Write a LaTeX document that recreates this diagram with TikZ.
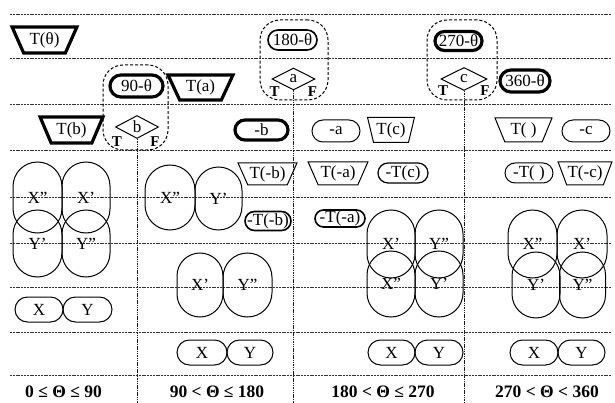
\documentclass[tikz,border=0pt]{standalone}
\usepackage{fontspec}
\setmainfont{Liberation Serif}
\usetikzlibrary{shapes.geometric}
\begin{document}
\begin{tikzpicture}[x=1pt,y=-1pt,
  every node/.style={font=\fontsize{17}{19}\selectfont, inner sep=0pt},
  thinl/.style={line width=1pt},
  medl/.style={line width=1.6pt},
  thickl/.style={line width=3.2pt},
  trap/.style n args={3}{trapezium, shape border rotate=180, trapezium stretches=true,
     trapezium left angle=#3, trapezium right angle=#3, draw,
     minimum width=#1, minimum height=#2},
  pill/.style 2 args={draw, rectangle, minimum width=#1, minimum height=#2,
     rounded corners={min(#1,#2)/2}},
  dia/.style 2 args={diamond, draw, thinl, minimum width=#1, minimum height=#2},
  tf/.style={font=\fontsize{15}{17}\selectfont\bfseries},
  grp/.style={draw, dashed, dash pattern=on 3pt off 2pt, line width=1pt,
     minimum width=#1, rounded corners=20},
  hline/.style={black!80, line width=0.9pt, dash pattern=on 2pt off 0.8pt},
  vline/.style={black!90, line width=1pt, dash pattern=on 1.5pt off 0.8pt},
  rng/.style={font=\fontsize{17.5}{19}\selectfont\bfseries}
]
\useasboundingbox (0,0) rectangle (615,403);

% grid lines
\foreach \yy in {14,58,104,150,197,243,287,332,375}
  \draw[hline] (10,\yy) -- (612,\yy);

% dashed groups
\node[grp=65, minimum height=85] (g1) at (135.5,107.5) {};
\node[grp=68, minimum height=80] (g2) at (294,60) {};
\node[grp=70, minimum height=80] (g3) at (462,60) {};

% row 1
\node[trap={65}{26}{62}, thickl] (tth) at (44.5,40) {T(θ)};
\node[pill={49}{20}, medl] (p180) at (292.5,40) {180-θ};
\node[pill={47}{19}, thickl] (p270) at (458.5,41) {270-θ};

% row 2
\node[pill={53}{22}, thickl] (p90) at (136.5,86) {90-θ};
\node[trap={65}{25}{62}, thickl] (ta) at (200.5,87.5) {T(a)};
\node[dia={43}{22}] (da) at (293.5,79) {a};
\node[dia={46}{23}] (dc) at (464,79) {c};
\node[pill={50}{22}, thickl] (p360) at (525,81) {360-θ};
\node[tf] (aT) at ([xshift=-19pt,yshift=-13pt]da.center) {T};
\node[tf] (aF) at ([xshift=19pt,yshift=-13pt]da.center) {F};
\node[tf] (cT) at ([xshift=-21pt,yshift=-12pt]dc.center) {T};
\node[tf] (cF) at ([xshift=21pt,yshift=-12pt]dc.center) {F};

% row 3
\node[trap={63}{26}{62}, thickl] (tb) at (71.5,130) {T(b)};
\node[dia={43}{23}] (db) at (137,127) {b};
\node[tf] (bT) at ([xshift=-20pt,yshift=-15pt]db.center) {T};
\node[tf] (bF) at ([xshift=18pt,yshift=-15pt]db.center) {F};
\node[pill={53}{20}, thickl] (mb) at (261.5,130) {-b};
\node[pill={48}{22}, thinl] (ma) at (336,131) {-a};
\node[trap={47}{25}{72}, thinl] (tc) at (391,130) {T(c)};
\node[trap={57}{24}{66}, thinl] (tem) at (523.5,130) {T( )};
\node[pill={48}{22}, thinl] (mc) at (586,131) {-c};

% connectors from the decisions
\coordinate (ae) at (da.south |- 0,403);
\coordinate (be) at (db.south |- 0,403);
\coordinate (ce) at (dc.south |- 0,403);
\draw[vline] (db.south) -- (be);
\draw[vline] (da.south) -- (ae);
\draw[vline] (dc.south) -- (ce);

% column 1 ovals
\node[pill={49}{71}, thinl] (c1x2) at (37.5,197.5) {X''};
\node[pill={48}{71}, thinl] (c1x1) at (86,197.5) {X'};
\node[pill={49}{67}, thinl] (c1y1) at (37.5,243.5) {Y'};
\node[pill={48}{67}, thinl] (c1y2) at (86,243.5) {Y''};
\node[pill={48}{25}, thinl] (c1X) at (39,309.5) {X};
\node[pill={49}{25}, thinl] (c1Y) at (87.5,309.5) {Y};

% column 2
\node[pill={50}{65}, thinl] (c2x2) at (170,197.5) {X''};
\node[pill={47}{63}, thinl] (c2y1) at (218.5,198.5) {Y'};
\node[trap={59}{22}{60}, thinl] (tmb) at (267.5,174) {T(-b)};
\node[pill={46}{19}, medl] (mtmb) at (268,221) {-T(-b)};
\node[pill={46}{64}, thinl] (c2x1) at (200,285) {X'};
\node[pill={49}{64}, thinl] (c2y2) at (247.5,285) {Y''};
\node[pill={50}{25}, thinl] (c2X) at (202,352.5) {X};
\node[pill={46}{25}, thinl] (c2Y) at (250,352.5) {Y};

% column 3
\node[trap={60}{23}{60}, thinl] (tma) at (338,173.5) {T(-a)};
\node[pill={50}{20}, line width=1.2pt] (mtc) at (403,173) {-T(c)};
\node[pill={50}{17}, medl] (mtma) at (340,218.5) {-T(-a)};
\node[pill={48}{68}, thinl] (c3x1) at (391,244) {X'};
\node[pill={48}{68}, thinl] (c3y2) at (439,244) {Y''};
\node[pill={48}{66}, thinl] (c3x2) at (391,284) {X''};
\node[pill={48}{66}, thinl] (c3y1) at (439,284) {Y'};
\node[pill={47}{25}, thinl] (c3X) at (391.5,352.5) {X};
\node[pill={48}{25}, thinl] (c3Y) at (439,352.5) {Y};

% column 4
\node[pill={48}{20}, thinl] (mtem) at (529,173) {-T( )};
\node[trap={54}{23}{62}, thinl] (tmc) at (585,173.5) {T(-c)};
\node[pill={49}{68}, thinl] (c4x2) at (532.5,244) {X''};
\node[pill={50}{68}, thinl] (c4x1) at (582,244) {X'};
\node[pill={48}{66}, thinl] (c4y1) at (536,285) {Y'};
\node[pill={46}{66}, thinl] (c4y2) at (582.5,285) {Y''};
\node[pill={48}{25}, thinl] (c4X) at (534,352.5) {X};
\node[pill={47}{25}, thinl] (c4Y) at (581.5,352.5) {Y};

% ranges
\node[rng] (r1) at (63.5,392) {0 ≤ Θ ≤ 90};
\node[rng] (r2) at (217,392) {90 < Θ ≤ 180};
\node[rng] (r3) at (383,392) {180 < Θ ≤ 270};
\node[rng] (r4) at (547,392) {270 < Θ < 360};
\end{tikzpicture}
\end{document}
